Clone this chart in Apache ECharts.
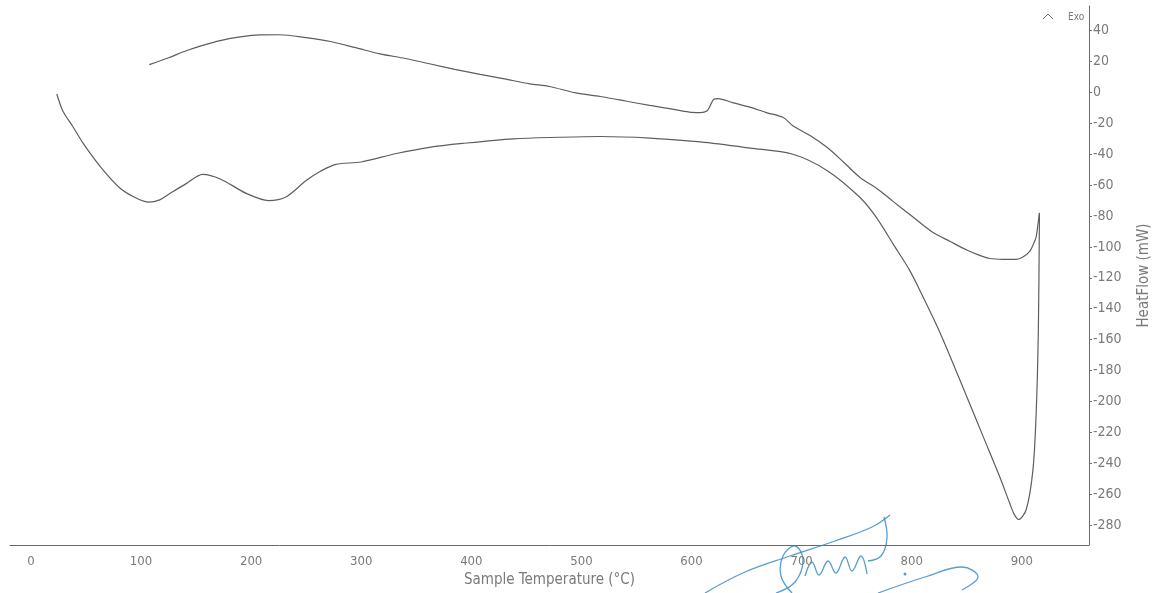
<!DOCTYPE html>
<html>
<head>
<meta charset="utf-8">
<title>HeatFlow vs Sample Temperature</title>
<script src="https://cdn.jsdelivr.net/npm/echarts@6/dist/echarts.min.js"></script>
<style>
  html, body { margin: 0; padding: 0; background: #fff; }
  #chart { width: 1166px; height: 593px; }
</style>
</head>
<body>
<div id="chart"></div>
<script>
// Heating run (lower trace): sample temperature (°C) and heat flow (mW)
const heatingTemp = [23.5, 29, 38, 47.5, 63, 81, 96, 107, 117, 126, 141, 156, 172, 196, 216, 232, 250, 263, 277, 300,
  332, 362, 392, 438, 480, 517, 562, 608, 653, 692, 723, 753, 768, 783, 798, 808, 826, 850, 865, 880,
  889, 893, 897, 904, 910, 913, 915, 916];
const heatingFlow = [-1, -12, -22, -33, -48, -62, -68.5, -71, -69.5, -65.5, -59, -53, -56, -65.5, -70, -67.5, -57, -51, -46.5, -45,
  -39.5, -35.5, -33, -30, -29, -28.5, -29.5, -32, -36, -40, -50.5, -68, -81, -98, -115, -129, -156, -197, -223, -249,
  -266, -273, -276.5, -270, -245, -208, -154, -78];

// Return run (upper trace), listed from the hot end back to the start
const coolingTemp = [916, 914.5, 913, 910, 907, 901, 895, 883, 871, 860, 850, 835, 819, 800, 783, 768, 753, 738, 723,
  708, 692, 683, 668, 653, 638, 624, 620, 617, 614, 608, 598, 580, 562, 540, 517, 495, 471, 453, 430,
  408, 385, 362, 340, 317, 295, 272, 250, 226, 208, 190, 172, 156, 141, 125, 107.5];
const coolingFlow = [-78, -86, -93.5, -99, -103, -106.5, -108, -108, -107.5, -105, -102, -96.5, -90.5, -80, -70.5, -62, -55, -45, -35.5,
  -28, -21.5, -16, -13, -9.5, -6.7, -4, -4.5, -8.5, -12, -13, -12.7, -10.5, -8.4, -5.5, -2.6, -0.3, 3.9, 5.6, 8.8,
  11.7, 15, 18.6, 22, 25, 29, 33, 35.5, 37.4, 37.3, 36, 33.6, 30.5, 27, 22.5, 18];

// Tick labels
const tempTicks = [0, 100, 200, 300, 400, 500, 600, 700, 800, 900];
const flowTicks = [-280, -260, -240, -220, -200, -180, -160, -140, -120, -100, -80, -60, -40, -20, 0, 20, 40];

const pairs = (xs, ys) => xs.map((x, i) => [x, ys[i]]);

const textColor = '#7a7a7a';
const axisColor = '#6a6a6a';
const traceColor = '#5e5e5e';
const fontFamily = '"DejaVu Sans Condensed", "Liberation Sans Narrow", "DejaVu Sans", sans-serif';
const inkBlue = '#3d8cc4';

const chart = echarts.init(document.getElementById('chart'), null, { renderer: 'canvas' });

// Handwritten ink initials near the bottom right
const signatureStrokes = [
  [[705, 593], [745, 572], [790, 556], [835, 541], [872, 527], [890, 515]],
  [[792, 593], [781, 576], [783, 556], [795, 546], [803, 560], [795, 582], [776, 593]],
  [[884, 517], [887, 538], [881, 556], [868, 561]],
  [[805, 576], [812, 562], [819, 575], [828, 561], [836, 573], [845, 557], [852, 571], [861, 556], [867, 574]],
  [[878, 593], [925, 577], [962, 567], [978, 577], [962, 590]]
];

chart.setOption({
  animation: false,
  backgroundColor: '#ffffff',
  grid: { left: 10, right: 77, top: 6, bottom: 48, containLabel: false },
  xAxis: {
    type: 'value',
    min: -19,
    max: 961,
    name: 'Sample Temperature (°C)',
    nameLocation: 'middle',
    nameGap: 26,
    nameTextStyle: { color: textColor, fontSize: 15, fontFamily },
    axisLine: { show: true, onZero: false, lineStyle: { color: axisColor, width: 1 } },
    axisTick: { show: false },
    splitLine: { show: false },
    axisLabel: {
      customValues: tempTicks,
      color: textColor,
      fontSize: 13,
      fontFamily,
      margin: 10
    }
  },
  yAxis: {
    type: 'value',
    position: 'right',
    min: -293,
    max: 56,
    name: 'HeatFlow (mW)',
    nameLocation: 'middle',
    nameGap: 48,
    nameTextStyle: { color: textColor, fontSize: 15, fontFamily },
    axisLine: { show: true, onZero: false, lineStyle: { color: axisColor, width: 1 } },
    axisTick: { show: true, customValues: flowTicks, length: 3, inside: false, lineStyle: { color: axisColor } },
    splitLine: { show: false },
    axisLabel: {
      customValues: flowTicks,
      color: textColor,
      fontSize: 14,
      fontFamily,
      margin: 4
    }
  },
  series: [
    {
      name: 'Heating',
      type: 'line',
      data: pairs(heatingTemp, heatingFlow),
      showSymbol: false,
      smooth: 0.3,
      lineStyle: { color: traceColor, width: 1.2 }
    },
    {
      name: 'Cooling',
      type: 'line',
      data: pairs(coolingTemp, coolingFlow),
      showSymbol: false,
      smooth: 0.3,
      lineStyle: { color: traceColor, width: 1.2 }
    }
  ],
  graphic: [
    {
      type: 'polyline',
      shape: { points: [[1043, 19], [1048, 14], [1053, 19]] },
      style: { stroke: '#777', lineWidth: 1, fill: null }
    },
    {
      type: 'text',
      left: 1068,
      top: 12,
      style: { text: 'Exo', fill: textColor, font: '10px ' + fontFamily }
    },
    ...signatureStrokes.map(pts => ({
      type: 'polyline',
      shape: { points: pts, smooth: 0.4 },
      style: { stroke: inkBlue, lineWidth: 1.3, fill: null, opacity: 0.85 }
    })),
    {
      type: 'circle',
      shape: { cx: 905, cy: 574, r: 1.5 },
      style: { fill: inkBlue, opacity: 0.85 }
    }
  ]
});
</script>
</body>
</html>
